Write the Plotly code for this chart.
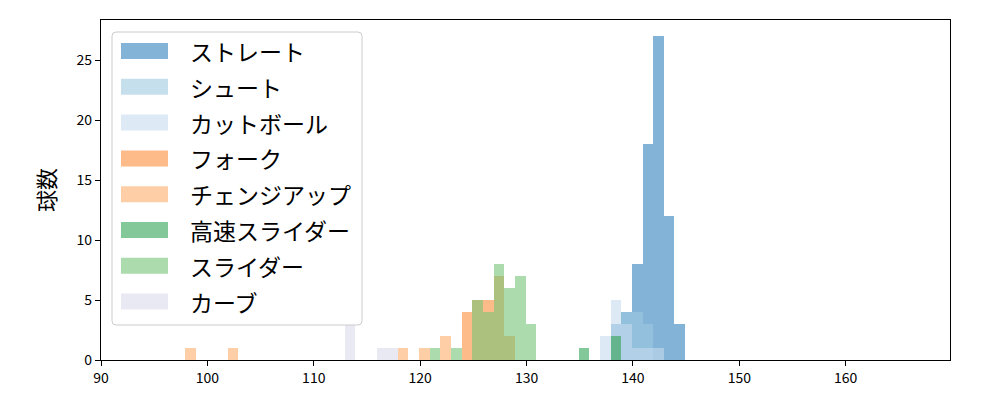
import plotly.graph_objects as go

# ---- data (histogram bins of width 1 km/h; centers in km/h) ----
names = ["ストレート", "シュート", "カットボール", "フォーク", "チェンジアップ", "高速スライダー", "スライダー", "カーブ"]
colors = ["#3182bd", "#9ecae1", "#c6dbef", "#fd8d3c", "#fdae6b", "#31a354", "#74c476", "#dadaeb"]

straight_x = [138.4, 139.4, 140.4, 141.4, 142.4, 143.4, 144.4]
straight_y = [3, 4, 8, 18, 27, 12, 3]
shoot_x = [138.4, 139.4, 140.4, 141.4]
shoot_y = [3, 4, 4, 3]
cut_x = [137.4, 138.4, 139.4, 140.4, 141.4, 142.4]
cut_y = [2, 5, 3, 1, 1, 1]
fork_x = [124.4, 125.4, 126.4, 127.4, 128.4]
fork_y = [4, 5, 5, 7, 2]
change_x = [98.4, 102.4, 118.4, 120.4, 122.4]
change_y = [1, 1, 1, 1, 2]
hsslider_x = [135.4, 138.4]
hsslider_y = [1, 2]
slider_x = [121.4, 123.4, 125.4, 126.4, 127.4, 128.4, 129.4, 130.4]
slider_y = [1, 1, 5, 4, 8, 6, 7, 3]
curve_x = [113.4, 116.4, 117.4]
curve_y = [3, 1, 1]

series_x = [straight_x, shoot_x, cut_x, fork_x, change_x, hsslider_x, slider_x, curve_x]
series_y = [straight_y, shoot_y, cut_y, fork_y, change_y, hsslider_y, slider_y, curve_y]

bin_width = 1.0
x_ticks = [90, 100, 110, 120, 130, 140, 150, 160]
y_ticks = [0, 5, 10, 15, 20, 25]

FONT = "Noto Sans CJK JP"
# page body has an 8px margin, so the figure is drawn 8px in from the window edge
OFF = 8
W, H = 1000 - OFF, 400 - OFF
L, R, T, B = 101 - OFF, 50, 20 - OFF, 40
PW, PH = W - L - R, H - T - B

fig = go.Figure()
for nm, col, xs, ys in zip(names, colors, series_x, series_y):
    fig.add_trace(go.Bar(x=xs, y=ys, width=bin_width, name=nm,
                         marker=dict(color=col, opacity=0.6, line=dict(width=0)),
                         showlegend=False))

def px2paper(px, py):
    # px, py in window pixels
    return (px - OFF - L) / PW, (H - B - (py - OFF)) / PH

# manual legend (matplotlib style)
x0, y0 = px2paper(112, 325)
x1, y1 = px2paper(362, 32)
rx, ry = 4 / PW, 4 / PH
path = (f"M{x0+rx},{y0} L{x1-rx},{y0} Q{x1},{y0} {x1},{y0+ry} L{x1},{y1-ry} Q{x1},{y1} {x1-rx},{y1} "
        f"L{x0+rx},{y1} Q{x0},{y1} {x0},{y1-ry} L{x0},{y0+ry} Q{x0},{y0} {x0+rx},{y0} Z")
shapes = [dict(type="path", xref="paper", yref="paper", path=path,
               fillcolor="rgba(255,255,255,0.8)", line=dict(color="#cccccc", width=1), layer="above")]
annotations = []
for i, (nm, col) in enumerate(zip(names, colors)):
    yc = 51 + 35.8 * i
    sx0, sy0 = px2paper(121, yc + 8)
    sx1, sy1 = px2paper(168, yc - 8)
    shapes.append(dict(type="rect", xref="paper", yref="paper", x0=sx0, x1=sx1, y0=sy0, y1=sy1,
                       fillcolor=col, opacity=0.6, line=dict(width=0), layer="above"))
    tx, ty = px2paper(188, yc)
    annotations.append(dict(xref="paper", yref="paper", x=tx, y=ty, text=nm, showarrow=False,
                            xanchor="left", yanchor="middle",
                            font=dict(family=FONT, size=23, color="black")))

fig.update_layout(
    width=W, height=H,
    margin=dict(l=L, r=R, t=T, b=B),
    barmode="overlay",
    bargap=0,
    plot_bgcolor="white", paper_bgcolor="white",
    font=dict(family=FONT, size=14, color="black"),
    shapes=shapes, annotations=annotations,
    showlegend=False,
)
fig.update_xaxes(range=[90, 169.8], tickvals=x_ticks, ticks="outside", ticklen=5, tickwidth=1.2,
                 tickcolor="black", showline=True, mirror=True, linecolor="black", linewidth=1.2,
                 showgrid=False, zeroline=False, tickfont=dict(size=14))
fig.update_yaxes(range=[0, 28.35], tickvals=y_ticks, ticks="outside", ticklen=5, tickwidth=1.2,
                 tickcolor="black", showline=True, mirror=True, linecolor="black", linewidth=1.2,
                 showgrid=False, zeroline=False, tickfont=dict(size=14),
                 title=dict(text="球数", font=dict(size=22), standoff=14))

fig.write_html("out.html")
